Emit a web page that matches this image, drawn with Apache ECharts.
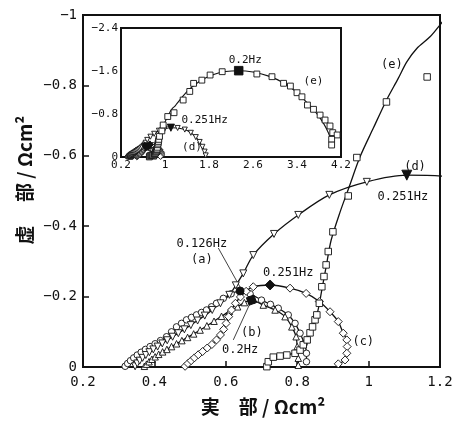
<!DOCTYPE html>
<html><head><meta charset="utf-8">
<script src="https://cdn.jsdelivr.net/npm/echarts@6/dist/echarts.min.js"></script>
<style>html,body{margin:0;padding:0;background:#fff}#c{width:459px;height:421px}</style>
</head><body><div id="c"></div>
<script>
// ---- tick labels ----
const mainXTicks = [0.2, 0.4, 0.6, 0.8, 1, 1.2];
const mainYTicks = [-1, -0.8, -0.6, -0.4, -0.2, 0];
const insetXTicks = [0.2, 1, 1.8, 2.6, 3.4, 4.2];
const insetYTicks = [-2.4, -1.6, -0.8, 0];

// ---- series (a)-(e): [real, imaginary] in ohm cm2 ----
const aPts = [[0.318,-0.002],[0.325,-0.01],[0.333,-0.018],[0.342,-0.026],[0.352,-0.034],[0.363,-0.042],[0.375,-0.05],[0.388,-0.058],[0.402,-0.066],[0.417,-0.075],[0.434,-0.086],[0.448,-0.1],[0.462,-0.114],[0.476,-0.124],[0.49,-0.134],[0.504,-0.141],[0.518,-0.148],[0.532,-0.155],[0.546,-0.162],[0.56,-0.171],[0.574,-0.181],[0.593,-0.195],[0.615,-0.208],[0.64,-0.216],[0.668,-0.208],[0.70,-0.19],[0.725,-0.178],[0.747,-0.167],[0.775,-0.148],[0.794,-0.124],[0.808,-0.096],[0.82,-0.067],[0.826,-0.039],[0.826,-0.015]];
const bPts = [[0.372,-0.002],[0.378,-0.008],[0.385,-0.015],[0.393,-0.022],[0.402,-0.029],[0.412,-0.036],[0.423,-0.043],[0.435,-0.05],[0.448,-0.058],[0.462,-0.066],[0.477,-0.075],[0.493,-0.084],[0.51,-0.094],[0.528,-0.105],[0.547,-0.117],[0.567,-0.13],[0.588,-0.144],[0.61,-0.158],[0.633,-0.171],[0.652,-0.183],[0.672,-0.19],[0.705,-0.176],[0.738,-0.162],[0.766,-0.143],[0.785,-0.114],[0.797,-0.086],[0.80,-0.058],[0.803,-0.025],[0.803,-0.005]];
const cPts = [[0.486,-0.002],[0.494,-0.01],[0.503,-0.018],[0.512,-0.026],[0.523,-0.035],[0.535,-0.044],[0.548,-0.054],[0.561,-0.064],[0.574,-0.077],[0.585,-0.091],[0.594,-0.107],[0.601,-0.124],[0.608,-0.143],[0.616,-0.162],[0.627,-0.181],[0.641,-0.199],[0.657,-0.215],[0.677,-0.228],[0.724,-0.233],[0.78,-0.224],[0.825,-0.209],[0.862,-0.186],[0.892,-0.157],[0.915,-0.129],[0.929,-0.096],[0.939,-0.077],[0.94,-0.058],[0.939,-0.039],[0.934,-0.02],[0.915,-0.009]];
const dPts = [[0.346,-0.002],[0.352,-0.01],[0.359,-0.018],[0.367,-0.026],[0.376,-0.034],[0.386,-0.042],[0.397,-0.05],[0.409,-0.058],[0.422,-0.067],[0.436,-0.076],[0.451,-0.086],[0.467,-0.096],[0.484,-0.107],[0.502,-0.119],[0.521,-0.132],[0.541,-0.146],[0.562,-0.162],[0.585,-0.181],[0.61,-0.205],[0.628,-0.232],[0.649,-0.266],[0.677,-0.318],[0.735,-0.378],[0.803,-0.432],[0.89,-0.489],[0.995,-0.526],[1.107,-0.545],[1.23,-0.54],[1.36,-0.51],[1.47,-0.45],[1.56,-0.37],[1.63,-0.28],[1.68,-0.19],[1.72,-0.1],[1.74,-0.03]];
const ePts = [[0.715,-0.001],[0.719,-0.015],[0.733,-0.028],[0.752,-0.031],[0.771,-0.034],[0.794,-0.039],[0.808,-0.048],[0.817,-0.063],[0.828,-0.077],[0.836,-0.097],[0.843,-0.114],[0.85,-0.134],[0.855,-0.148],[0.862,-0.181],[0.869,-0.228],[0.875,-0.257],[0.881,-0.29],[0.887,-0.328],[0.9,-0.384],[0.943,-0.486],[0.967,-0.595],[1.05,-0.753],[1.164,-0.824],[1.33,-1.06],[1.45,-1.22],[1.52,-1.37],[1.67,-1.43],[1.82,-1.525],[2.04,-1.587],[2.34,-1.606],[2.67,-1.544],[2.945,-1.494],[3.156,-1.371],[3.28,-1.32],[3.40,-1.196],[3.49,-1.12],[3.59,-0.967],[3.70,-0.887],[3.82,-0.78],[3.91,-0.688],[4.0,-0.577],[4.05,-0.453],[4.13,-0.41],[4.03,-0.329],[4.03,-0.223]];
const eFit = [[0.715,0],[0.725,-0.02],[0.745,-0.03],[0.775,-0.035],[0.80,-0.043],[0.815,-0.06],[0.83,-0.085],[0.845,-0.12],[0.858,-0.16],[0.87,-0.225],[0.882,-0.29],[0.895,-0.36],[0.92,-0.44],[0.945,-0.51],[0.976,-0.597],[1.013,-0.678],[1.05,-0.758],[1.083,-0.82],[1.107,-0.867],[1.135,-0.905],[1.172,-0.938],[1.2,-0.972],[1.3,-1.1],[1.42,-1.24],[1.55,-1.35],[1.7,-1.45],[1.9,-1.54],[2.1,-1.59],[2.34,-1.606],[2.6,-1.58],[2.9,-1.5],[3.15,-1.38],[3.4,-1.2],[3.6,-0.99],[3.75,-0.82],[3.88,-0.63],[3.97,-0.45],[4.02,-0.3],[4.04,-0.18]];
// highlighted frequency points
const aMark = [[0.64,-0.216]];   // 0.126Hz
const bMark = [[0.672,-0.19]];   // 0.2Hz
const cMark = [[0.724,-0.233]];  // 0.251Hz
const dMark = [[1.107,-0.545]];  // 0.251Hz
const eMark = [[2.34,-1.606]];   // 0.2Hz
// pointer lines to annotations
const pointerA = [[0.579,-0.338],[0.64,-0.227]];
const pointerB = [[0.621,-0.077],[0.668,-0.181]];

const mainNotes = [
  ['(e)', 1.065, -0.858], ['(d)', 1.13, -0.569], ['0.251Hz', 1.096, -0.484],
  ['0.126Hz', 0.533, -0.351], ['(a)', 0.533, -0.304], ['0.251Hz', 0.775, -0.266],
  ['(b)', 0.673, -0.096], ['0.2Hz', 0.64, -0.05], ['(c)', 0.985, -0.072]
];
const insetNotes = [
  ['0.2Hz', 2.46, -1.81], ['(e)', 3.7, -1.42], ['0.251Hz', 1.72, -0.68], ['(d)', 1.49, -0.19]
];

const mono = '"DejaVu Sans Mono", monospace';
const cjk = '"Noto Sans CJK JP", sans-serif';
function fmt(v) { if (Math.abs(v) < 1e-9) return '0'; return String(+v.toFixed(2)).replace('-', '\u2212'); }

const chart = echarts.init(document.getElementById('c'), null, {renderer: 'canvas'});

function lineS(data, gi, w) {
  return {type: 'line', data: data, xAxisIndex: gi, yAxisIndex: gi, symbol: 'none', showSymbol: false,
    smooth: 0.3, lineStyle: {color: '#111', width: w || 1.3}, clip: true, silent: true, z: 2, animation: false};
}
function markS(data, gi, symbol, size, rotate, fill, z) {
  return {type: 'scatter', data: data, xAxisIndex: gi, yAxisIndex: gi, symbol: symbol, symbolSize: size,
    symbolRotate: rotate || 0, clip: true, silent: true, z: z || 3, animation: false,
    itemStyle: {color: fill, borderColor: '#111', borderWidth: 0.9, opacity: 1}};
}

const series = [];
[0, 1].forEach(function (gi) {
  const s = gi === 0 ? 1 : 0.72;
  const lw = gi === 0 ? 1.3 : 1.1;
  series.push(lineS(aPts, gi, lw), lineS(bPts, gi, lw), lineS(cPts, gi, lw), lineS(dPts, gi, lw), lineS(eFit, gi, lw));
  series.push(markS(aPts, gi, 'circle', 6.5 * s, 0, '#fff'));
  series.push(markS(bPts, gi, 'triangle', 6.5 * s, 0, '#fff'));
  series.push(markS(cPts, gi, 'diamond', 8 * s, 0, '#fff'));
  series.push(markS(dPts, gi, 'triangle', 7 * s, 180, '#fff'));
  series.push(markS(ePts, gi, 'rect', 6.5 * (gi === 0 ? 1 : 0.9), 0, '#fff'));
  series.push(markS(aMark, gi, 'circle', 8 * s, 0, '#111', 4));
  series.push(markS(bMark, gi, 'rect', 8 * s, 20, '#111', 4));
  series.push(markS(cMark, gi, 'diamond', 10 * s, 0, '#111', 4));
  series.push(markS(dMark, gi, 'triangle', 10 * s, 180, '#111', 4));
  series.push(markS(eMark, gi, 'rect', 9 * (gi === 0 ? 1 : 0.95), 0, '#111', 4));
});
series.push(lineS(pointerA, 0, 0.8), lineS(pointerB, 0, 0.8));
series[series.length - 1].smooth = false; series[series.length - 2].smooth = false;

function axisCommon(fs, margin, tickLen) {
  return {
    axisLine: {show: true, onZero: false, lineStyle: {color: '#111', width: 2}},
    axisTick: {show: true, inside: true, length: tickLen, lineStyle: {color: '#111', width: 1.5}},
    axisLabel: {fontFamily: mono, fontSize: fs, color: '#111', margin: margin, formatter: fmt},
    splitLine: {show: false}
  };
}

const option = {
  animation: false,
  backgroundColor: '#fff',
  grid: [
    {left: 83, top: 15, width: 357, height: 352, show: true, borderColor: '#111', borderWidth: 2, backgroundColor: 'transparent', z: 0},
    {left: 121, top: 28, width: 220, height: 129, show: true, borderColor: '#111', borderWidth: 2, backgroundColor: '#fff', z: 1}
  ],
  xAxis: [
    Object.assign({type: 'value', gridIndex: 0, min: mainXTicks[0], max: mainXTicks[mainXTicks.length - 1], interval: 0.2}, axisCommon(14, 8, 6)),
    (function () {
      const a = Object.assign({type: 'value', gridIndex: 1, min: insetXTicks[0], max: insetXTicks[insetXTicks.length - 1]}, axisCommon(11, 3, 5));
      a.axisTick.customValues = insetXTicks; a.axisLabel.customValues = insetXTicks;
      return a;
    })()
  ],
  yAxis: [
    Object.assign({type: 'value', gridIndex: 0, inverse: true, min: mainYTicks[0], max: mainYTicks[mainYTicks.length - 1], interval: 0.2}, axisCommon(14, 6, 6)),
    Object.assign({type: 'value', gridIndex: 1, inverse: true, min: insetYTicks[0], max: insetYTicks[insetYTicks.length - 1], interval: 0.8}, axisCommon(11, 3, 5))
  ],
  series: series
};
chart.setOption(option);

const graphics = [];
mainNotes.forEach(function (n) {
  const p = chart.convertToPixel({gridIndex: 0}, [n[1], n[2]]);
  graphics.push({type: 'text', x: p[0], y: p[1], z: 10, style: {text: n[0], fontFamily: mono, fontSize: 12, fill: '#111', align: 'center', verticalAlign: 'middle'}});
});
insetNotes.forEach(function (n) {
  const p = chart.convertToPixel({gridIndex: 1}, [n[1], n[2]]);
  graphics.push({type: 'text', x: p[0], y: p[1], z: 10, style: {text: n[0], fontFamily: mono, fontSize: 11, fill: '#111', align: 'center', verticalAlign: 'middle'}});
});
graphics.push({type: 'text', x: 263, y: 407, z: 10, style: {text: '実\u3000部 / Ωcm²', fontFamily: cjk, fontWeight: 'bold', fontSize: 19, fill: '#111', align: 'center', verticalAlign: 'middle'}});
graphics.push({type: 'text', x: 25, y: 180, rotation: Math.PI / 2, z: 10, style: {text: '虚\u3000 部 / Ωcm²', fontFamily: cjk, fontWeight: 'bold', fontSize: 19, fill: '#111', align: 'center', verticalAlign: 'middle'}});
chart.setOption({graphic: graphics});
</script></body></html>
